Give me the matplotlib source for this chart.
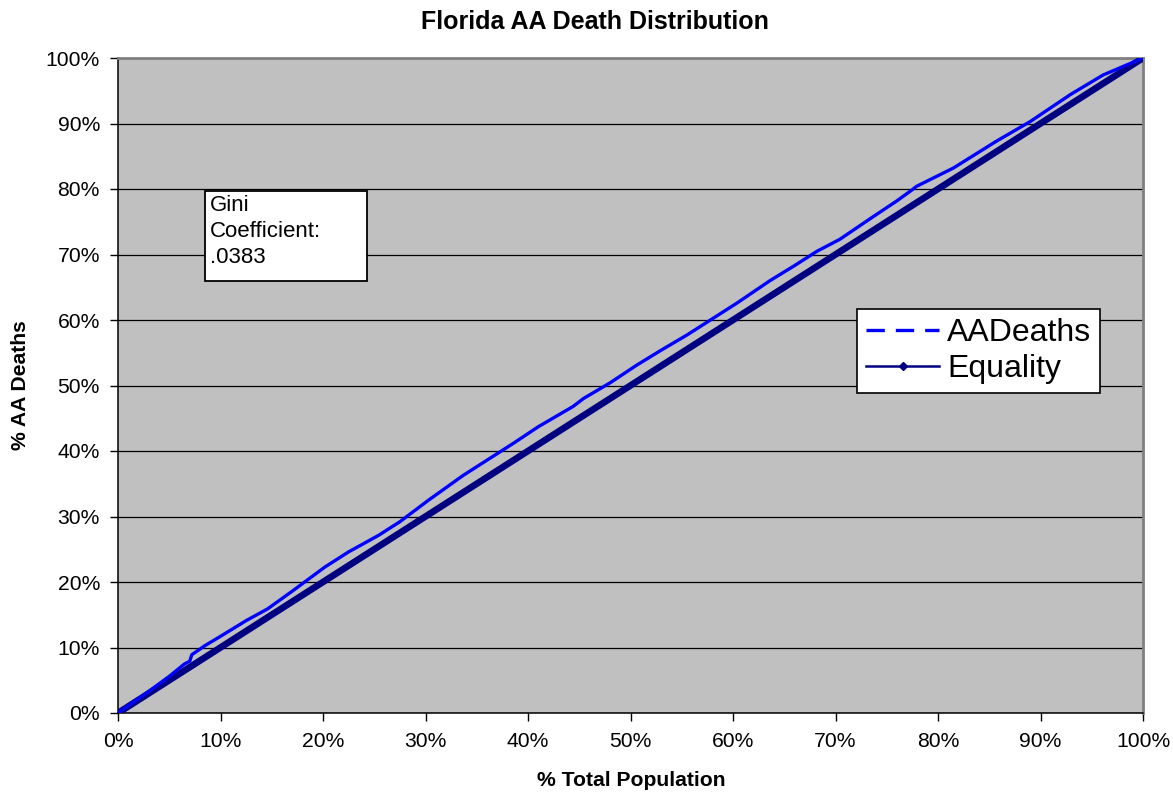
import matplotlib
matplotlib.use("Agg")
import matplotlib.pyplot as plt
from matplotlib.lines import Line2D
from matplotlib.patches import Rectangle
from matplotlib.ticker import PercentFormatter, MultipleLocator

plt.rcParams["font.family"] = ["Liberation Sans", "DejaVu Sans"]

# Cumulative share of total population (%) and of AA deaths (%)
pop_share = [0, 3, 5, 6.5, 7.0, 7.2, 8.5, 10.1, 12.5, 14.6, 17, 20.2, 22.5, 25.4,
             27.5, 30.3, 33.7, 36, 38.6, 41, 44.4, 45.4, 48, 50.6, 53, 55.5, 58,
             60.4, 63.6, 66, 68.2, 70.4, 73.7, 76, 77.5, 77.9, 81.5, 85.7, 89,
             92.9, 96.1, 100]
aa_deaths = [0, 3.3, 5.6, 7.5, 7.9, 8.9, 10.3, 11.8, 14.1, 15.9, 18.6, 22.3, 24.6,
             27.1, 29.2, 32.5, 36.3, 38.6, 41.2, 43.7, 46.8, 48.0, 50.4, 53.1, 55.4,
             57.7, 60.2, 62.6, 66.0, 68.3, 70.5, 72.3, 75.8, 78.2, 79.9, 80.4, 83.2,
             87.3, 90.3, 94.4, 97.4, 100]
# Line of perfect equality
equality_x = [0, 10, 20, 30, 40, 50, 60, 70, 80, 90, 100]
equality_y = [0, 10, 20, 30, 40, 50, 60, 70, 80, 90, 100]

title = "Florida AA Death Distribution"
x_label = "% Total Population"
y_label = "% AA Deaths"
gini_text = "Gini\nCoefficient:\n.0383"

W, H = 1173, 793
fig = plt.figure(figsize=(W / 100, H / 100), dpi=100)
ax = fig.add_axes([118 / W, 1 - 713 / H, (1143 - 118) / W, (713 - 58) / H])
ax.set_facecolor("#C0C0C0")

ax.set_xlim(0, 100)
ax.set_ylim(0, 100)
ax.xaxis.set_major_locator(MultipleLocator(10))
ax.yaxis.set_major_locator(MultipleLocator(10))
ax.xaxis.set_major_formatter(PercentFormatter(decimals=0))
ax.yaxis.set_major_formatter(PercentFormatter(decimals=0))
ax.grid(axis="y", color="black", linewidth=0.9)
ax.set_axisbelow(True)

ax.plot(equality_x, equality_y, color="#000080", linewidth=4.8,
        solid_capstyle="round", zorder=3)
ax.plot(pop_share, aa_deaths, color="#0000FF", linewidth=2.4, zorder=4)

for side in ("top", "right"):
    ax.spines[side].set_color("#808080")
    ax.spines[side].set_linewidth(2)
for side in ("left", "bottom"):
    ax.spines[side].set_color("black")
    ax.spines[side].set_linewidth(1.1)

ax.tick_params(axis="both", direction="out", length=6, width=1, colors="black",
               labelsize=15.2)
ax.tick_params(axis="x", pad=8)
ax.tick_params(axis="y", pad=7)

fig.text(595 / W, 1 - 22 / H, title, ha="center", va="center",
         fontsize=18, fontweight="bold")
fig.text(631 / W, 1 - 781 / H, x_label, ha="center", va="center",
         fontsize=15.2, fontweight="bold")
fig.text(21 / W, 1 - 385 / H, y_label, ha="center", va="center", rotation=90,
         fontsize=15.2, fontweight="bold")

# Gini coefficient note
fig.patches.append(Rectangle((205 / W, 1 - 281 / H), 162 / W, 90 / H,
                             transform=fig.transFigure, facecolor="white",
                             edgecolor="black", linewidth=1.3, zorder=5))
fig.text(210 / W, 1 - 195 / H, gini_text, ha="left", va="top", fontsize=16,
         linespacing=1.3, zorder=6)

handles = [
    Line2D([], [], color="#0000FF", linewidth=2.4, linestyle=(0, (5.5, 3.3))),
    Line2D([], [], color="#000080", linewidth=1.8, marker="D", markersize=4),
]
leg = ax.legend(handles, ["AADeaths", "Equality"], loc="upper left",
                bbox_to_anchor=(857 / W, 1 - 309 / H),
                bbox_transform=fig.transFigure, fontsize=23, frameon=True,
                fancybox=False, framealpha=1, edgecolor="black",
                handlelength=2.3, handletextpad=0.25, labelspacing=0.2,
                borderpad=0.28, borderaxespad=0, numpoints=1)
leg.get_frame().set_linewidth(1.2)
leg.set_zorder(6)

fig.savefig("out.png", dpi=100, facecolor="white")
